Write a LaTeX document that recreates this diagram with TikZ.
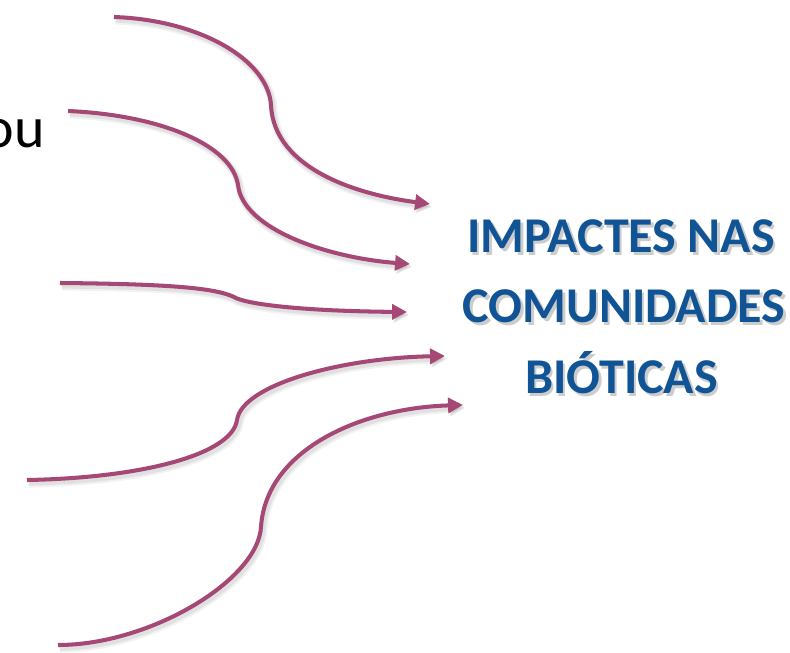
\documentclass[tikz,border=0pt]{standalone}
\usepackage{fontspec}
\setmainfont{Carlito}
\usetikzlibrary{arrows.meta}
\definecolor{arrowc}{RGB}{165,72,117}
\definecolor{titlec}{RGB}{16,84,150}
\tikzset{
  flow/.style={draw=arrowc, line width=2.3pt, -{Triangle[length=8.5pt,width=8.5pt]},
    preaction={draw=black, opacity=0.05, line width=5pt, transform canvas={shift={(1.2pt,-1.8pt)}}},
    preaction={draw=black, opacity=0.07, line width=3.4pt, transform canvas={shift={(1pt,-1.5pt)}}}},
  titlefont/.style={font=\bfseries\fontsize{28.5}{34}\selectfont, inner sep=0pt, anchor=base},
  titletext/.style={titlefont, text=titlec},
  titleshadow/.style={titlefont, text=black, opacity=0.2},
}
\begin{document}
\begin{tikzpicture}[x=0.02cm,y=-0.02cm]
\useasboundingbox (0,0) rectangle (790,652);
\clip (0,0) rectangle (790,652);
\node[font=\fontsize{33}{40}\selectfont, inner sep=0pt, anchor=base east] (ou) at (45,147) {ou};
% coordinates
\coordinate (s1) at (114,17);  \coordinate (e1) at (430,204);
\coordinate (s2) at (68,111);  \coordinate (e2) at (410,264);
\coordinate (s3) at (60,283);  \coordinate (e3) at (407,312);
\coordinate (s4) at (27,480);  \coordinate (e4) at (445,356);
\coordinate (s5) at (58,645);  \coordinate (e5) at (463,405);
\draw[flow] (s1) .. controls (200,20) and (268,60) .. (271,105) .. controls (274,170) and (360,195) .. (e1);
\draw[flow] (s2) .. controls (160,115) and (232,145) .. (238,185) .. controls (243,230) and (330,258) .. (e2);
\draw[flow] (s3) .. controls (170,284) and (215,288) .. (234,297) .. controls (245,304) and (300,311) .. (e3);
\draw[flow] (s4) .. controls (140,478) and (232,455) .. (237,420) .. controls (242,385) and (340,358) .. (e4);
\draw[flow] (s5) .. controls (150,645) and (258,580) .. (261,527) .. controls (266,450) and (360,408) .. (e5);
% title shadows
\node[titleshadow] (t1s) at (623.5,255) {IMPACTES NAS};
\node[titleshadow] (t2s) at (626.5,325) {COMUNIDADES};
\node[titleshadow] (t3s) at (624,396) {BIÓTICAS};
% title
\node[titletext] (t1) at (621,252) {IMPACTES NAS};
\node[titletext] (t2) at (624,322) {COMUNIDADES};
\node[titletext] (t3) at (621.5,393) {BIÓTICAS};
\end{tikzpicture}
\end{document}
